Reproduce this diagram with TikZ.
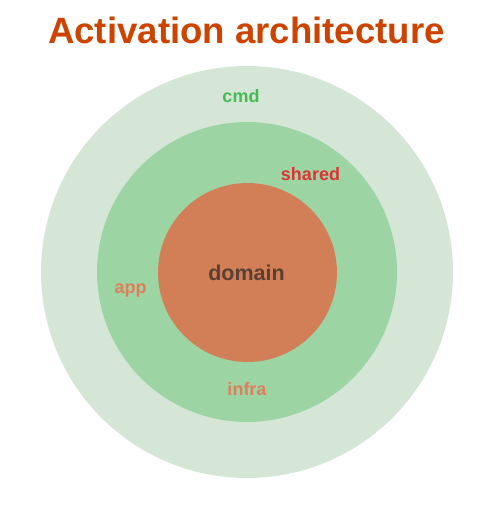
\documentclass[tikz,border=0pt]{standalone}
\usepackage{fontspec}
\setmainfont{Liberation Sans}
\definecolor{titlec}{HTML}{CC4400}
\definecolor{outerc}{HTML}{D5E6D7}
\definecolor{midc}{HTML}{9DD4A4}
\definecolor{innerc}{HTML}{D27F58}
\definecolor{cmdc}{HTML}{44BB55}
\definecolor{sharedc}{HTML}{DD3333}
\definecolor{domc}{HTML}{5A4032}
\definecolor{labc}{HTML}{DD7F58}
\begin{document}
\begin{tikzpicture}[x=1pt,y=-1pt,
  ring/.style={circle,inner sep=0pt,draw=none},
  lab/.style={anchor=base,inner sep=0pt,font=\fontsize{18}{20}\selectfont\bfseries}]
\useasboundingbox (0,0) rectangle (493,506);
\node[anchor=base,inner sep=0pt,text=titlec,font=\fontsize{36.6}{40}\selectfont\bfseries] (title) at (246.5,43) {Activation architecture};
\node[ring,fill=outerc,minimum size=412pt] (outer) at (247,272) {};
\node[ring,fill=midc,minimum size=300pt] (mid) at (247,272) {};
\node[ring,fill=innerc,minimum size=179pt] (inner) at (247.5,272.5) {};
\node[lab,text=cmdc] (cmd) at (241,102.3) {cmd};
\node[lab,text=sharedc] (shared) at (310.5,180) {shared};
\node[lab,text=domc,font=\fontsize{21.5}{24}\selectfont\bfseries] (domain) at (246.5,280) {domain};
\node[lab,text=labc] (app) at (130.5,293.3) {app};
\node[lab,text=labc] (infra) at (247,395) {infra};
\end{tikzpicture}
\end{document}
